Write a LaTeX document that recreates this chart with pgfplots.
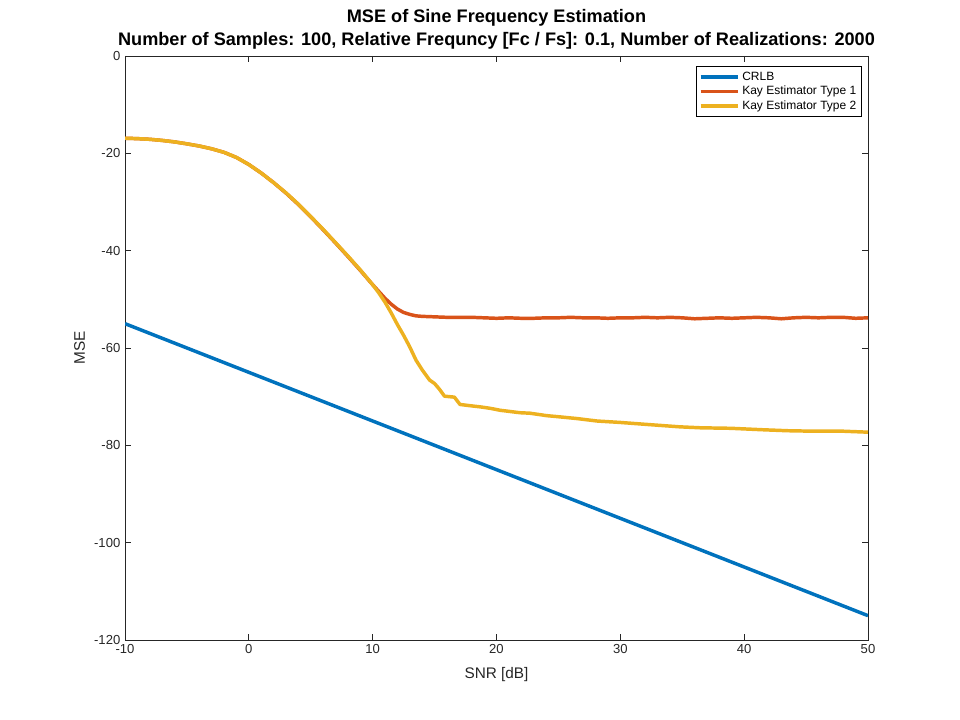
\documentclass[border=0pt]{standalone}
\usepackage{pgfplots}
\pgfplotsset{compat=1.18}
\usepackage{fontspec}
\setmainfont{Liberation Sans}
\definecolor{mblue}{rgb}{0,0.447,0.741}
\definecolor{mred}{rgb}{0.85,0.325,0.098}
\definecolor{myel}{rgb}{0.929,0.694,0.125}
\definecolor{axgray}{rgb}{0.15,0.15,0.15}
\begin{document}
\begin{tikzpicture}
\useasboundingbox (0,0) rectangle (720pt,540pt);
\begin{axis}[
  at={(93.75pt,60pt)}, anchor=south west,
  scale only axis, width=557.25pt, height=438pt,
  xmin=-10, xmax=50, ymin=-120, ymax=0,
  xtick={-10,0,...,50}, ytick={-120,-100,...,0},
  axis line style={axgray, line width=0.6pt},
  tick style={axgray, line width=0.6pt},
  major tick length=4.5pt,
  tick align=inside,
  ticklabel style={font=\fontsize{9.8}{11}\selectfont, text=axgray},
  /pgf/number format/assume math mode=true,
  xlabel={SNR [dB]}, ylabel={MSE},
  label style={font=\fontsize{11.5}{13}\selectfont, text=axgray},
  xlabel style={yshift=-3pt},
  ylabel style={yshift=0pt},
  title style={font=\bfseries\fontsize{13.6}{17.5}\selectfont, align=center, yshift=-4.5pt},
  title={MSE of Sine Frequency Estimation\\Number of Samples: 100, Relative Frequncy [Fc / Fs]: 0.1, Number of Realizations: 2000},
  legend style={at={(1,1)}, anchor=north east, xshift=-4.5pt, yshift=-7.5pt,
    font=\fontsize{9}{10.5}\selectfont, draw=black, line width=0.5pt,
    inner xsep=2pt, inner ysep=2pt, row sep=-1pt, cells={anchor=west}},
  legend cell align=left,
  legend image code/.code={\draw[#1, line width=2.6pt] (0pt,0pt) -- (28pt,0pt);},
]
\addplot[mblue, line width=2.6pt] coordinates {(-10,-55) (50,-115)};
\addlegendentry{CRLB}
\addplot[mred, line width=2.6pt, line join=round] coordinates {
(-10,-16.9) (-9,-16.98) (-8,-17.12) (-7,-17.35) (-6,-17.65) (-5,-18.05) (-4,-18.5)
(-3,-19.07) (-2,-19.8) (-1,-20.85) (0,-22.3) (1,-24.05) (2,-26.02) (3,-28.17)
(4,-30.52) (5,-33.05) (6,-35.7) (7,-38.42) (8,-41.2) (9,-44.05) (10,-47.0)
(10.5,-48.4) (11,-49.8) (11.5,-51.0) (12,-52.0) (12.5,-52.7)
(13,-53.1) (13.5,-53.4) (14,-53.5) (15,-53.6) (16,-53.7) (17,-53.7) (18,-53.7)
(19,-53.8) (20,-53.9) (21,-53.8) (22,-53.9) (23,-53.9) (24,-53.8) (25,-53.8)
(26,-53.7) (27,-53.8) (28,-53.8) (29,-53.9) (30,-53.8) (31,-53.8) (32,-53.7)
(33,-53.8) (34,-53.7) (35,-53.8) (36,-54.0) (37,-53.9) (38,-53.8) (39,-53.9)
(40,-53.8) (41,-53.7) (42,-53.8) (43,-54.0) (44,-53.8) (45,-53.7) (46,-53.8)
(47,-53.7) (48,-53.7) (49,-53.9) (50,-53.8)};
\addlegendentry{Kay Estimator Type 1}
\addplot[myel, line width=2.6pt, line join=round] coordinates {
(-10,-16.9) (-9,-16.98) (-8,-17.12) (-7,-17.35) (-6,-17.65) (-5,-18.05) (-4,-18.5)
(-3,-19.07) (-2,-19.8) (-1,-20.85) (0,-22.3) (1,-24.05) (2,-26.02) (3,-28.12)
(4,-30.45) (5,-33.0) (6,-35.62) (7,-38.35) (8,-41.1) (9,-43.95) (10,-47.0)
(10.5,-48.7) (11,-50.6) (11.5,-52.8) (12,-55.2) (12.5,-57.4)
(13,-59.8) (13.5,-62.5) (14,-64.5) (14.6,-66.6) (15,-67.3) (15.4,-68.5) (15.8,-69.9)
(16.6,-70.1) (17.05,-71.6) (18,-71.9) (18.7,-72.1) (19.5,-72.4) (20.3,-72.8)
(21.9,-73.3) (22.7,-73.4) (24.05,-73.9) (24.9,-74.1) (26.5,-74.5) (28.1,-75.0)
(30,-75.3) (32.1,-75.7) (34.8,-76.2) (36.5,-76.4) (38.9,-76.5) (41.5,-76.8)
(43.5,-77.0) (45.6,-77.1) (48,-77.1) (50,-77.3)};
\addlegendentry{Kay Estimator Type 2}
\end{axis}
\end{tikzpicture}
\end{document}
